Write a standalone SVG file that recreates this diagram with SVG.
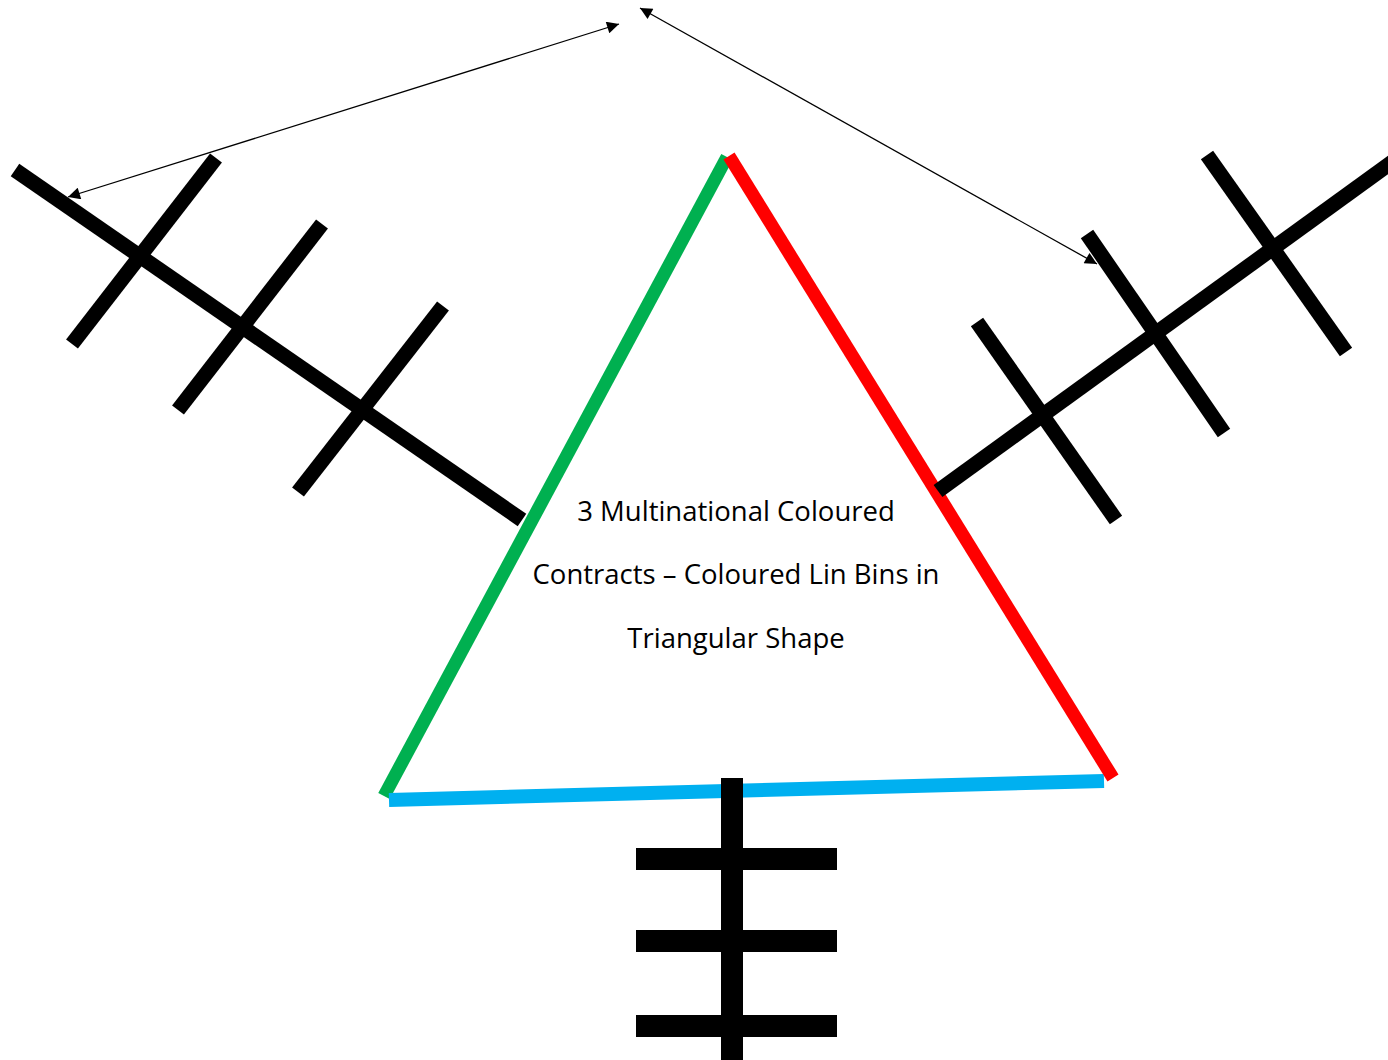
<svg xmlns="http://www.w3.org/2000/svg" width="1388" height="1060" viewBox="0 0 1388 1060">
<style>
.bar{stroke:#000;stroke-width:15;fill:none}
.vbar{stroke:#000;stroke-width:22;fill:none}
.conn{stroke:#000;stroke-width:1.3;fill:none;marker-start:url(#ah);marker-end:url(#ah)}
.lbl{font-family:"Open Sans","Liberation Sans",Arial,sans-serif;font-size:27.5px;fill:#000;text-anchor:middle}
</style>
<defs>
<marker id="ah" viewBox="0 0 10 10" refX="10" refY="5" markerWidth="15" markerHeight="12" markerUnits="userSpaceOnUse" orient="auto-start-reverse">
<path d="M0,0 L10,5 L0,10 Z" fill="#000"/>
</marker>
</defs>
<rect width="1388" height="1060" fill="#fff"/>
<g id="connectors">
<line class="conn" x1="68" y1="197" x2="619" y2="24"/>
<line class="conn" x1="640" y1="8" x2="1097" y2="264"/>
</g>
<g id="triangle">
<line x1="727" y1="157" x2="384" y2="796" stroke="#00B050" stroke-width="13"/>
<line x1="389" y1="800" x2="1104" y2="781" stroke="#00B0F0" stroke-width="14"/>
<line x1="729" y1="156" x2="1113" y2="778" stroke="#FF0000" stroke-width="13"/>
</g>
<g id="left-antenna">
<line class="bar" x1="15" y1="170" x2="522" y2="520"/>
<line class="bar" x1="216" y1="158" x2="72" y2="344"/>
<line class="bar" x1="322" y1="224" x2="178" y2="410"/>
<line class="bar" x1="443" y1="306" x2="298" y2="492"/>
</g>
<g id="right-antenna">
<line class="bar" x1="938" y1="491" x2="1395" y2="160"/>
<line class="bar" x1="977" y1="322" x2="1116" y2="520"/>
<line class="bar" x1="1087" y1="234" x2="1224" y2="433"/>
<line class="bar" x1="1207" y1="155" x2="1346" y2="352"/>
</g>
<g id="bottom-antenna">
<line class="vbar" x1="732" y1="778" x2="732" y2="1060"/>
<line class="vbar" x1="636" y1="859" x2="837" y2="859"/>
<line class="vbar" x1="636" y1="941" x2="837" y2="941"/>
<line class="vbar" x1="636" y1="1026" x2="837" y2="1026"/>
</g>
<g id="label">
<text class="lbl" x="736" y="521">3 Multinational Coloured</text>
<text class="lbl" x="736" y="584">Contracts – Coloured Lin Bins in</text>
<text class="lbl" x="736" y="648">Triangular Shape</text>
</g>
</svg>
